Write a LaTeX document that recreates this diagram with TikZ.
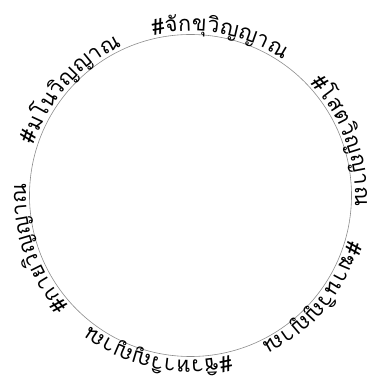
\documentclass[tikz,border=0pt]{standalone}
\usepackage{fontspec}
\newfontfamily\thaifont[Script=Thai]{Loma}
\usetikzlibrary{decorations.text}
\newcommand\lblfont{\thaifont\fontsize{21.5}{25}\selectfont}
\begin{document}
\begin{tikzpicture}[x=1pt,y=1pt,
  lbl/.style={decorate, decoration={text along path, raise=3.5pt, text format delimiters={|}{|}}}]
\useasboundingbox (0,0) rectangle (371,380);
\coordinate (c) at (190.5,184.5);
\node[draw=black!45, circle, minimum size=322pt, inner sep=0pt, line width=0.6pt] (ring) at (c) {};
\path[lbl, decoration={text={|\lblfont|{\#}{จั}ก{ขุ}{วิ}ญญาณ}}] (c) ++(103:161) arc[start angle=103, delta angle=-100, radius=161];
\path[lbl, decoration={text={|\lblfont|{\#}โสต{วิ}ญญาณ}}] (c) ++(43:161) arc[start angle=43, delta angle=-100, radius=161];
\path[lbl, decoration={text={|\lblfont|{\#}ฆาน{วิ}ญญาณ}}] (c) ++(-16:161) arc[start angle=-16, delta angle=-100, radius=161];
\path[lbl, decoration={text={|\lblfont|{\#}{ชิ}วหา{วิ}ญญาณ}}] (c) ++(-76:161) arc[start angle=-76, delta angle=-100, radius=161];
\path[lbl, decoration={text={|\lblfont|{\#}กาย{วิ}ญญาณ}}] (c) ++(-138:161) arc[start angle=-138, delta angle=-100, radius=161];
\path[lbl, decoration={text={|\lblfont|{\#}มโน{วิ}ญญาณ}}] (c) ++(162:161) arc[start angle=162, delta angle=-100, radius=161];
\end{tikzpicture}
\end{document}
